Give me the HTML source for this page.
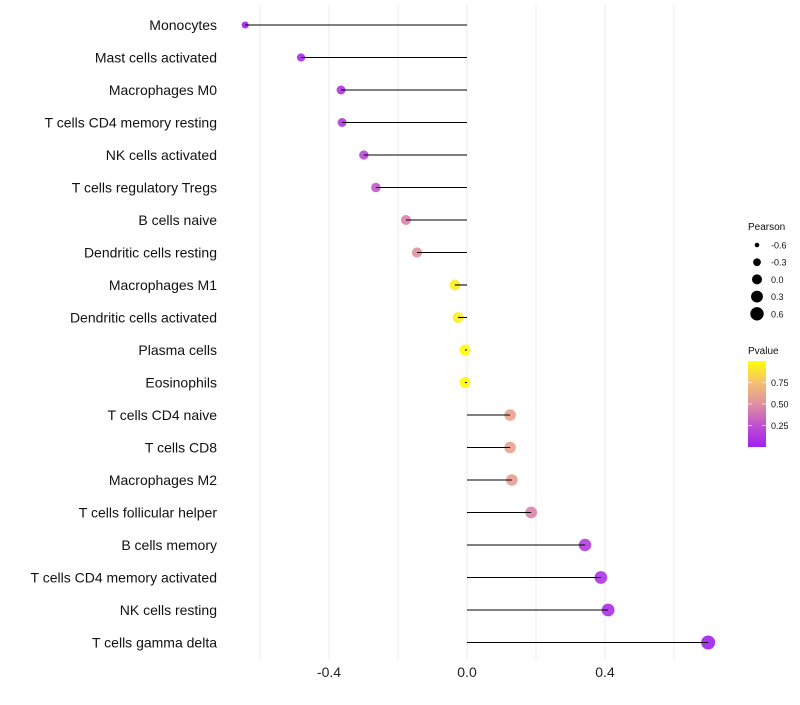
<!DOCTYPE html>
<html><head><meta charset="utf-8"><style>
body{margin:0;background:#fff;font-family:"Liberation Sans",sans-serif}
svg text{font-family:"Liberation Sans",sans-serif}
</style></head><body>
<svg id="chart" width="800" height="700"></svg>
<script>
const categories=["Monocytes","Mast cells activated","Macrophages M0","T cells CD4 memory resting","NK cells activated","T cells regulatory  Tregs ","B cells naive","Dendritic cells resting","Macrophages M1","Dendritic cells activated","Plasma cells","Eosinophils","T cells CD4 naive","T cells CD8","Macrophages M2","T cells follicular helper","B cells memory","T cells CD4 memory activated","NK cells resting","T cells gamma delta"];
const pearson=[-0.643,-0.481,-0.365,-0.362,-0.299,-0.264,-0.177,-0.145,-0.035,-0.026,-0.006,-0.006,0.125,0.125,0.130,0.186,0.342,0.388,0.409,0.699];
const pvalues=[0.01,0.04,0.1,0.12,0.2,0.27,0.45,0.5,0.93,0.93,0.99,0.99,0.6,0.6,0.58,0.45,0.15,0.1,0.08,0.01];
const xTicks=[-0.4,0,0.4];
const xGrid=[-0.6,-0.4,-0.2,0,0.2,0.4,0.6];
const sizeLegend=[-0.6,-0.3,0.0,0.3,0.6];
const pTicks=[0.25,0.5,0.75];
const NS="http://www.w3.org/2000/svg";
const svg=document.getElementById('chart');
function mk(t,a,p){const e=document.createElementNS(NS,t);for(const k in a)e.setAttribute(k,a[k]);(p||svg).appendChild(e);return e;}
const xS=v=>467+v*345;
const yS=i=>25+i*32.5;
const rS=v=>Math.sqrt(Math.max(4,30+27*v));
const rL=v=>Math.sqrt(Math.max(4,25+33*v));
const stops=[[0,[160,32,240]],[0.25,[192,80,208]],[0.5,[224,144,160]],[0.75,[245,192,112]],[1,[255,255,0]]];
function col(p){for(let i=0;i<stops.length-1;i++){const a=stops[i],b=stops[i+1];if(p<=b[0]){const t=(p-a[0])/(b[0]-a[0]);const c=a[1].map((v,j)=>Math.round(v+(b[1][j]-v)*t));return `rgb(${c})`;}}return 'rgb(255,255,0)';}
xGrid.forEach(v=>{const g=mk('line',{x1:xS(v),x2:xS(v),y1:5,y2:660,stroke:'#ebebeb','stroke-width':1});

});
xTicks.forEach(v=>{const t=mk('text',{x:xS(v),y:677,'text-anchor':'middle','font-size':14,fill:'#222'});t.textContent=v.toFixed(1);

});
categories.forEach((c,i)=>{const y=yS(i);
const t=mk('text',{x:217,y:y+5,'text-anchor':'end','font-size':14,fill:'#111'});t.textContent=c;


const pt=mk('circle',{cx:xS(pearson[i]),cy:y,r:rS(pearson[i]),fill:col(pvalues[i]),opacity:0.9});


const l=mk('line',{x1:xS(0),x2:xS(pearson[i]),y1:y,y2:y,stroke:'#000','stroke-width':1.1});

});
const lt=mk('text',{x:748,y:230,'font-size':10,fill:'#111'});lt.textContent='Pearson';


sizeLegend.forEach((v,i)=>{const y=245+i*17.2;
const c=mk('circle',{cx:757,cy:y,r:rL(v),fill:'#000'});


const t=mk('text',{x:771,y:y+3.5,'font-size':9,fill:'#111'});t.textContent=v.toFixed(1);

});
const pt2=mk('text',{x:748,y:354,'font-size':10,fill:'#111'});pt2.textContent='Pvalue';


const defs=mk('defs',{});const lg=mk('linearGradient',{id:'pg',x1:0,y1:1,x2:0,y2:0},defs);
stops.forEach(s=>mk('stop',{offset:s[0],'stop-color':`rgb(${s[1]})`},lg));
const bar=mk('rect',{x:748,y:361,width:18,height:86,fill:'url(#pg)'});


const pY=p=>447-p*86;
pTicks.forEach(p=>{mk('line',{x1:748,x2:752,y1:pY(p),y2:pY(p),stroke:'#fff','stroke-opacity':0.6});mk('line',{x1:762,x2:766,y1:pY(p),y2:pY(p),stroke:'#fff','stroke-opacity':0.6});
const t=mk('text',{x:771,y:pY(p)+3.5,'font-size':9,fill:'#111'});t.textContent=p.toFixed(2);

});
</script>
</body></html>
